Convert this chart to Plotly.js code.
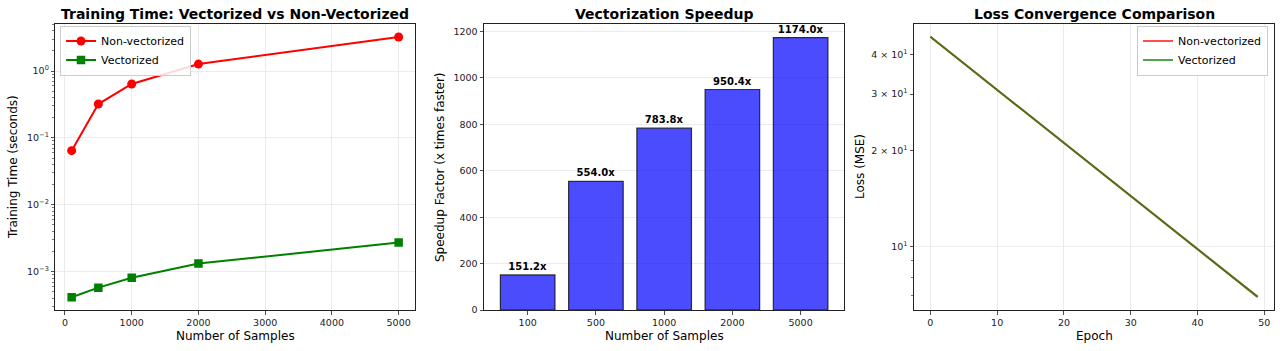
<!DOCTYPE html>
<html><head><meta charset="utf-8">
<script src="https://cdn.plot.ly/plotly-3.0.1.min.js"></script>
<style>html,body{margin:0;padding:0;background:#fff}#chart{width:1280px;height:351px}</style>
</head><body><div id="chart"></div>
<script>
// ---- data ----
const sampleSizes = [100, 500, 1000, 2000, 5000];
const timeNonVectorized = [0.0644, 0.321, 0.640, 1.27, 3.22];
const timeVectorized = [0.000414, 0.000577, 0.000813, 0.00132, 0.00272];

const speedupCategories = ['100', '500', '1000', '2000', '5000'];
const speedupFactors = [151.2, 554.0, 783.8, 950.4, 1174.0];

const epochs = [0,1,2,3,4,5,6,7,8,9,10,11,12,13,14,15,16,17,18,19,20,21,22,23,24,25,26,27,28,29,30,31,32,33,34,35,36,37,38,39,40,41,42,43,44,45,46,47,48,49];
const lossNonVectorized = [45.40,43.69,42.05,40.47,38.95,37.48,36.07,34.72,33.41,32.16,30.95,29.78,28.66,27.59,26.55,25.55,24.59,23.67,22.78,21.92,21.10,20.30,19.54,18.81,18.10,17.42,16.76,16.13,15.53,14.94,14.38,13.84,13.32,12.82,12.34,11.87,11.43,11.00,10.58,10.19,9.80,9.43,9.08,8.74,8.41,8.09,7.79,7.50,7.21,6.94];
const lossVectorized = [45.40,43.69,42.05,40.47,38.95,37.48,36.07,34.72,33.41,32.16,30.95,29.78,28.66,27.59,26.55,25.55,24.59,23.67,22.78,21.92,21.10,20.30,19.54,18.81,18.10,17.42,16.76,16.13,15.53,14.94,14.38,13.84,13.32,12.82,12.34,11.87,11.43,11.00,10.58,10.19,9.80,9.43,9.08,8.74,8.41,8.09,7.79,7.50,7.21,6.94];

// ---- ticks ----
const leftXTicks = [0, 1000, 2000, 3000, 4000, 5000];
const leftYTicks = [0.001, 0.01, 0.1, 1];
const leftYTickText = ['10<sup>−3</sup>', '10<sup>−2</sup>', '10<sup>−1</sup>', '10<sup>0</sup>'];
const leftYMinor = [0.0003,0.0004,0.0005,0.0006,0.0007,0.0008,0.0009,
  0.002,0.003,0.004,0.005,0.006,0.007,0.008,0.009,
  0.02,0.03,0.04,0.05,0.06,0.07,0.08,0.09,
  0.2,0.3,0.4,0.5,0.6,0.7,0.8,0.9,2,3,4,5];
const midYTicks = [0, 200, 400, 600, 800, 1000, 1200];
const rightXTicks = [0, 10, 20, 30, 40, 50];
const rightYTicks = [10, 20, 30, 40];
const rightYTickText = ['10<sup>1</sup>', '2 × 10<sup>1</sup>', '3 × 10<sup>1</sup>', '4 × 10<sup>1</sup>'];
const rightYMinor = [7, 8, 9];
const rightYGrid = [10];

// ---- layout helpers ----
const W = 1280, H = 351;
const px = v => v / W, py = v => 1 - v / H;
const yDom = [py(310), py(24)];
const FONT = 'DejaVu Sans';
const gridC = '#e6e6e6';

function baseAxis(extra) {
  return Object.assign({
    showline: true, mirror: true, linecolor: '#222', linewidth: 1,
    ticks: 'outside', ticklen: 3.5, tickwidth: 0.8, tickcolor: '#222',
    tickfont: {family: FONT, size: 9.5, color: '#222'},
    zeroline: false, gridcolor: gridC, gridwidth: 0.8, fixedrange: true
  }, extra);
}

const traces = [
  {x: sampleSizes, y: timeNonVectorized, name: 'Non-vectorized', type: 'scatter', mode: 'lines+markers',
   line: {color: 'red', width: 2}, marker: {symbol: 'circle', size: 9, color: 'red'},
   xaxis: 'x', yaxis: 'y', legend: 'legend'},
  {x: sampleSizes, y: timeVectorized, name: 'Vectorized', type: 'scatter', mode: 'lines+markers',
   line: {color: 'green', width: 2}, marker: {symbol: 'square', size: 8.5, color: 'green'},
   xaxis: 'x', yaxis: 'y', legend: 'legend'},
  {x: speedupCategories, y: speedupFactors, type: 'bar', showlegend: false, width: 0.8,
   marker: {color: 'rgba(0,0,255,0.7)', line: {color: 'rgba(0,0,0,0.75)', width: 1.2}},
   text: speedupFactors.map(v => '<b>' + v.toFixed(1) + 'x</b>'), textposition: 'outside',
   textfont: {family: FONT, size: 10, color: '#000'}, cliponaxis: false, constraintext: 'none',
   xaxis: 'x2', yaxis: 'y2'},
  {x: epochs, y: lossNonVectorized, name: 'Non-vectorized', type: 'scatter', mode: 'lines',
   line: {color: 'red', width: 2}, opacity: 0.7, xaxis: 'x3', yaxis: 'y3', legend: 'legend2'},
  {x: epochs, y: lossVectorized, name: 'Vectorized', type: 'scatter', mode: 'lines',
   line: {color: 'green', width: 2}, opacity: 0.7, xaxis: 'x3', yaxis: 'y3', legend: 'legend2'}
];

const legendBase = {
  bgcolor: 'rgba(255,255,255,0.85)', bordercolor: '#cccccc', borderwidth: 1,
  font: {family: FONT, size: 11, color: '#000'}, yanchor: 'top', tracegroupgap: 0,
  itemwidth: 30
};

function ann(text, x, y, size, extra) {
  return Object.assign({text: text, x: px(x), y: py(y), xref: 'paper', yref: 'paper',
    showarrow: false, xanchor: 'center', yanchor: 'middle',
    font: {family: FONT, size: size, color: '#000'}}, extra || {});
}

const layout = {
  width: W, height: H, margin: {l: 0, r: 0, t: 0, b: 0},
  paper_bgcolor: '#fff', plot_bgcolor: '#fff', showlegend: true,
  font: {family: FONT},
  xaxis: baseAxis({domain: [px(55.3), px(415)], anchor: 'y', range: [-145, 5245],
    tickmode: 'array', tickvals: leftXTicks, showgrid: true}),
  yaxis: baseAxis({domain: yDom, anchor: 'x', type: 'log', range: [-3.573, 0.703],
    tickmode: 'array', tickvals: leftYTicks, ticktext: leftYTickText, showgrid: true,
    minor: {tickmode: 'array', tickvals: leftYMinor, ticks: 'outside', ticklen: 2, tickwidth: 0.6, tickcolor: '#222', showgrid: false}}),
  xaxis2: baseAxis({domain: [px(484), px(844.3)], anchor: 'y2', type: 'category',
    categoryorder: 'array', categoryarray: speedupCategories, range: [-0.64, 4.64], showgrid: false}),
  yaxis2: baseAxis({domain: yDom, anchor: 'x2', range: [0, 1232.7],
    tickmode: 'array', tickvals: midYTicks, showgrid: true}),
  xaxis3: baseAxis({domain: [px(914), px(1274)], anchor: 'y3', range: [-2.45, 51.45],
    tickmode: 'array', tickvals: rightXTicks, showgrid: true}),
  yaxis3: baseAxis({domain: yDom, anchor: 'x3', type: 'log', range: [0.8003, 1.697],
    tickmode: 'array', tickvals: rightYTicks, ticktext: rightYTickText, showgrid: false,
    minor: {tickmode: 'array', tickvals: rightYMinor, ticks: 'outside', ticklen: 2, tickwidth: 0.6, tickcolor: '#222', showgrid: false}}),
  shapes: rightYGrid.map(v => ({type: 'line', xref: 'x3 domain', yref: 'y3', x0: 0, x1: 1, y0: v, y1: v,
    line: {color: gridC, width: 0.8}, layer: 'below'})),
  legend: Object.assign({}, legendBase, {x: px(60), y: py(25.5), xanchor: 'left'}),
  legend2: Object.assign({}, legendBase, {x: px(1268), y: py(25.5), xanchor: 'right'}),
  annotations: [
    ann('<b>Training Time: Vectorized vs Non-Vectorized</b>', 235, 14, 14),
    ann('<b>Vectorization Speedup</b>', 664, 14, 14),
    ann('<b>Loss Convergence Comparison</b>', 1094, 14, 14),
    ann('Number of Samples', 235, 336, 12),
    ann('Number of Samples', 664, 336, 12),
    ann('Epoch', 1094, 336, 12),
    ann('Training Time (seconds)', 13, 167, 12, {textangle: -90}),
    ann('Speedup Factor (x times faster)', 440, 167, 12, {textangle: -90}),
    ann('Loss (MSE)', 860, 167, 12, {textangle: -90})
  ]
};

Plotly.newPlot('chart', traces, layout, {displayModeBar: false, staticPlot: true});
</script>
</body></html>
